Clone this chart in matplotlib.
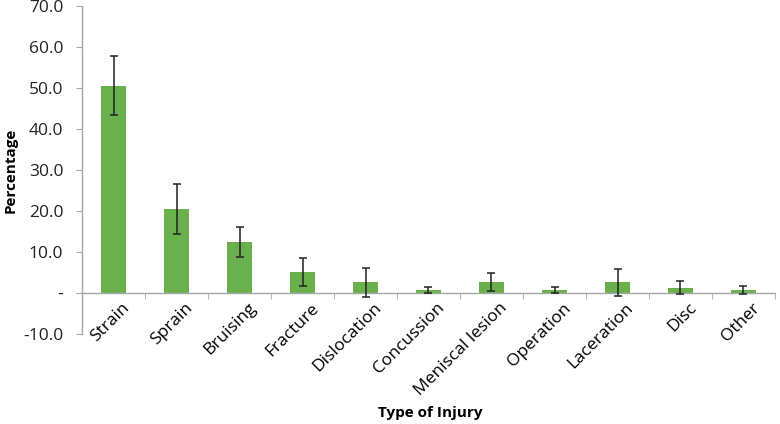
import matplotlib
matplotlib.use('Agg')
import matplotlib.pyplot as plt
import matplotlib.transforms as mtransforms
import numpy as np
from matplotlib.ticker import FuncFormatter, FixedLocator

categories = ["Strain", "Sprain", "Bruising", "Fracture", "Dislocation", "Concussion",
              "Meniscal lesion", "Operation", "Laceration", "Disc", "Other"]
values = [50.6, 20.5, 12.4, 5.2, 2.6, 0.65, 2.6, 0.65, 2.6, 1.3, 0.65]
errors = [7.2, 6.1, 3.6, 3.4, 3.5, 0.75, 2.2, 0.75, 3.3, 1.6, 0.95]
yticks = [-10, 0, 10, 20, 30, 40, 50, 60, 70]

plt.rcParams['font.family'] = ['Open Sans', 'DejaVu Sans']

fig = plt.figure(figsize=(7.8, 4.24), dpi=100)
ax = fig.add_axes([82/780, 1 - 334/424, 693/780, 328/424])

x = np.arange(len(categories))
ax.bar(x, values, width=0.4, color='#6ab04c', zorder=2)
ax.errorbar(x, values, yerr=errors, fmt='none', ecolor='#222222', elinewidth=1.1,
            capsize=3, capthick=1.1, zorder=3)

ax.set_xlim(-0.5, len(categories) - 0.5)
ax.set_ylim(-10, 70)
ax.set_yticks(yticks)
ax.yaxis.set_major_formatter(FuncFormatter(lambda v, p: '-' if v == 0 else f'{v:.1f}'))

for s in ['top', 'right']:
    ax.spines[s].set_visible(False)
ax.spines['bottom'].set_position(('data', 0))
for s in ['left', 'bottom']:
    ax.spines[s].set_color('#a6a6a6')
    ax.spines[s].set_linewidth(1)

ax.set_xticks(x)
ax.set_xticklabels(categories, rotation=45, ha='right', rotation_mode='anchor', fontsize=12.5)
ax.tick_params(axis='x', which='major', length=0, pad=5)
shift = mtransforms.ScaledTranslation(8/100, 0, fig.dpi_scale_trans)
for lab in ax.get_xticklabels():
    lab.set_transform(lab.get_transform() + shift)
ax.xaxis.set_minor_locator(FixedLocator(np.arange(-0.5, len(categories), 1.0)))
ax.tick_params(axis='x', which='minor', length=4.5, color='#a6a6a6', direction='out')
ax.tick_params(axis='y', length=4.5, color='#a6a6a6', labelsize=12.5, labelcolor='#222222', pad=9)

fig.text(11/780, 1 - 170/424, 'Percentage', rotation=90, ha='center', va='center',
         fontsize=11, fontweight='bold')
fig.text(430/780, 1 - 413/424, 'Type of Injury', ha='center', va='center',
         fontsize=11, fontweight='bold')

fig.savefig('out.png', dpi=100)
